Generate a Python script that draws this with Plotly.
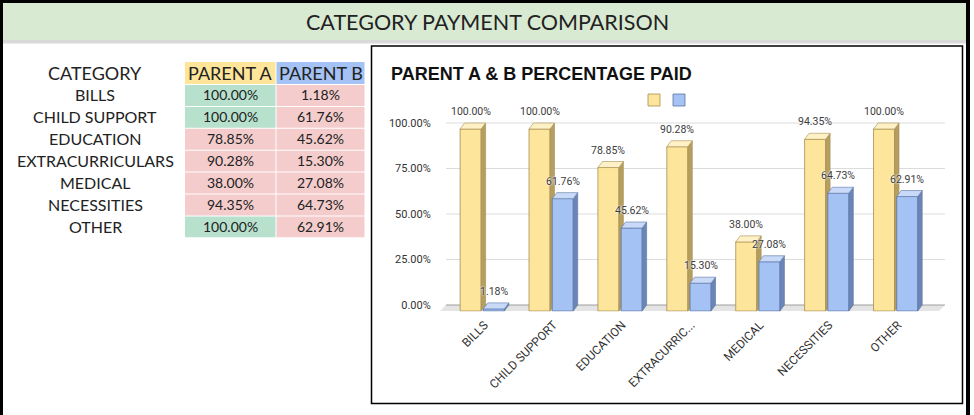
import plotly.graph_objects as go

# ---------------- data ----------------
CATEGORIES = ["BILLS", "CHILD SUPPORT", "EDUCATION", "EXTRACURRICULARS",
              "MEDICAL", "NECESSITIES", "OTHER"]
AXIS_LABELS = ["BILLS", "CHILD SUPPORT", "EDUCATION", "EXTRACURRIC...",
               "MEDICAL", "NECESSITIES", "OTHER"]
PARENT_A = [100.00, 100.00, 78.85, 90.28, 38.00, 94.35, 100.00]
PARENT_B = [1.18, 61.76, 45.62, 15.30, 27.08, 64.73, 62.91]
SERIES_NAMES = ["PARENT A", "PARENT B"]
Y_TICKS = [0, 25, 50, 75, 100]
PAGE_TITLE = "CATEGORY PAYMENT COMPARISON"
CHART_TITLE = "PARENT A & B PERCENTAGE PAID"
TABLE_HEADER = "CATEGORY"

# ---------------- style / geometry ----------------
W, H = 974, 415
def px(x): return x / W
def py(y): return 1 - y / H

DX = 0.065      # 3D depth (category units)
DY = 3.3        # 3D depth (percent units)
FX = 0.087      # floor skew
BAR_W = 0.305
OFFS = [-0.325, 0.012]
FRONT = ["#fde59b", "#a4c2f4"]
TOP = ["#fff1c6", "#c8daf8"]
SIDE = ["#b59e60", "#6a85b6"]
EDGE = ["#a48e52", "#5b75a5"]
TXT = "#222222"
TABLE_FONT = "Lato"
CHART_FONT = "Roboto"
TITLE_FONT = "Arial, 'Liberation Sans', sans-serif"
GREEN, PINK = "#b7e1cd", "#f4cccc"
HEAD_COL = ["#ffe599", "#a4c2f4"]

n = len(CATEGORIES)
xs = list(range(n))
SERIES = [PARENT_A, PARENT_B]
AX = [("x", "y"), ("x2", "y2")]

fig = go.Figure()

for s, vals in enumerate(SERIES):
    xa, ya = AX[s]
    fig.add_trace(go.Bar(
        x=xs, y=vals, base=[-DY] * n, width=BAR_W, offset=OFFS[s],
        marker=dict(color=FRONT[s], line=dict(color=EDGE[s], width=0.8)),
        name=SERIES_NAMES[s], legend="legend" if s == 0 else "legend2",
        xaxis=xa, yaxis=ya, hoverinfo="skip"))
    sx, sy, tx, ty = [], [], [], []
    for i, v in enumerate(vals):
        x0 = i + OFFS[s]
        x1 = x0 + BAR_W
        sx += [x1, x1 + DX, x1 + DX, x1, x1, None]
        sy += [-DY, 0, v, v - DY, -DY, None]
        tx += [x0, x0 + DX, x1 + DX, x1, x0, None]
        ty += [v - DY, v, v, v - DY, v - DY, None]
    fig.add_trace(go.Scatter(x=sx, y=sy, fill="toself", fillcolor=SIDE[s], mode="lines",
                             line=dict(color=EDGE[s], width=0.6), showlegend=False,
                             hoverinfo="skip", xaxis=xa, yaxis=ya))
    fig.add_trace(go.Scatter(x=tx, y=ty, fill="toself", fillcolor=TOP[s], mode="lines",
                             line=dict(color=EDGE[s], width=0.6), showlegend=False,
                             hoverinfo="skip", xaxis=xa, yaxis=ya))

annotations = []
# data labels (above the bars, in data coordinates)
for s, vals in enumerate(SERIES):
    for i, v in enumerate(vals):
        annotations.append(dict(
            text=f"{v:.2f}%", x=i + OFFS[s] + BAR_W / 2, y=v, xref="x2", yref="y2",
            showarrow=False, xanchor="center", yanchor="bottom", yshift=3,
            font=dict(size=10.5, color="#3c3c3c", family=CHART_FONT,
                      shadow="0px 0px 2px #ffffff, 0px 0px 2px #ffffff")))

shapes = []
# floor + gridlines (data coords)
shapes.append(dict(type="path", xref="x", yref="y", layer="below",
                   path=f"M -0.53,0 L 6.712,0 L {6.712 - FX},{-DY} L {-0.53 - FX},{-DY} Z",
                   fillcolor="#e4e4e4", line=dict(width=0)))
for v in Y_TICKS:
    shapes.append(dict(type="line", xref="x", yref="y", layer="below",
                       x0=-0.53, x1=6.712, y0=v, y1=v,
                       line=dict(color="#9e9e9e" if v == 0 else "#dcdcdc", width=1)))

def rect(x0, y0, x1, y1, color, line=None):
    d = dict(type="rect", xref="paper", yref="paper", x0=px(x0), x1=px(x1),
             y0=py(y1), y1=py(y0), fillcolor=color, line=dict(width=0))
    if line:
        d["line"] = line
        d["fillcolor"] = "rgba(0,0,0,0)"
    return d

def label(text, x, y, size, family=TABLE_FONT, color=TXT, anchor="center"):
    return dict(text=text, x=px(x), y=py(y), xref="paper", yref="paper",
                showarrow=False, xanchor=anchor, yanchor="middle",
                font=dict(family=family, size=size, color=color))

# page frame
shapes.append(rect(3, 3, 966, 40, "#d9ead3"))
shapes.append(rect(3, 40, 966, 43.5, "#d9d9d9"))
shapes.append(rect(0, 0, 970, 3, "#000000"))
shapes.append(rect(0, 0, 3, 415, "#000000"))
shapes.append(rect(966, 0, 970, 415, "#000000"))
# chart box
shapes.append(rect(371.5, 46, 962.5, 403.5, None, line=dict(color="#000000", width=1.5)))

annotations.append(label(PAGE_TITLE, 487, 22, 21.5))
annotations.append(label(f"<b>{CHART_TITLE}</b>", 389, 73.5, 18, TITLE_FONT, "#111111", "left"))

# table
COLS_X = [(185, 275.5), (276.5, 364.5)]
HEAD_Y = (62, 84)
ROW_TOP, ROW_H = 85, 21.9
CAT_X = 95
annotations.append(label(TABLE_HEADER, CAT_X, 73, 18))
for c in range(2):
    shapes.append(rect(COLS_X[c][0], HEAD_Y[0], COLS_X[c][1], HEAD_Y[1], HEAD_COL[c]))
    annotations.append(label(SERIES_NAMES[c], sum(COLS_X[c]) / 2, 73, 18))
for r, cat in enumerate(CATEGORIES):
    y0 = ROW_TOP + r * ROW_H
    y1 = y0 + ROW_H - 1
    yc = (y0 + y1) / 2 - 0.5
    annotations.append(label(cat, CAT_X, yc, 16))
    for c, vals in enumerate(SERIES):
        v = vals[r]
        shapes.append(rect(COLS_X[c][0], y0, COLS_X[c][1], y1, GREEN if v >= 100 else PINK))
        annotations.append(label(f"{v:.2f}%", sum(COLS_X[c]) / 2, yc, 14))

X_RANGE = [-0.617, 6.727]
Y_RANGE = [-3.5, 115.4]
X_DOM = [px(440), px(946)]
Y_DOM = [py(311.4), py(95)]

legend_style = dict(y=py(100), xanchor="left", yanchor="middle",
                    bgcolor="rgba(0,0,0,0)", font=dict(size=1, color="rgba(0,0,0,0)"),
                    itemclick=False, itemdoubleclick=False)

fig.update_layout(
    width=W, height=H, margin=dict(l=0, r=0, t=0, b=0),
    paper_bgcolor="#ffffff", plot_bgcolor="rgba(0,0,0,0)",
    barmode="overlay", shapes=shapes, annotations=annotations,
    xaxis=dict(domain=X_DOM, range=X_RANGE, tickvals=[i + 0.03 for i in xs],
               ticktext=AXIS_LABELS, tickangle=-45, showgrid=False, zeroline=False,
               showline=False, ticks="outside", ticklen=1, tickcolor="rgba(0,0,0,0)",
               tickfont=dict(family=CHART_FONT, size=12, color="#333333"), fixedrange=True),
    xaxis2=dict(domain=X_DOM, range=X_RANGE, overlaying="x", visible=False),
    yaxis=dict(domain=Y_DOM, range=Y_RANGE, tickvals=Y_TICKS,
               ticktext=[f"{v:.2f}%" for v in Y_TICKS], showgrid=False, zeroline=False,
               showline=False, ticks="outside", ticklen=6, tickcolor="rgba(0,0,0,0)",
               tickfont=dict(family=CHART_FONT, size=11, color="#333333"), fixedrange=True),
    yaxis2=dict(domain=Y_DOM, range=Y_RANGE, overlaying="y", visible=False),
    legend=dict(x=px(634), **legend_style),
    legend2=dict(x=px(659), **legend_style),
)

fig.write_html("out.html", config={"displayModeBar": False})
